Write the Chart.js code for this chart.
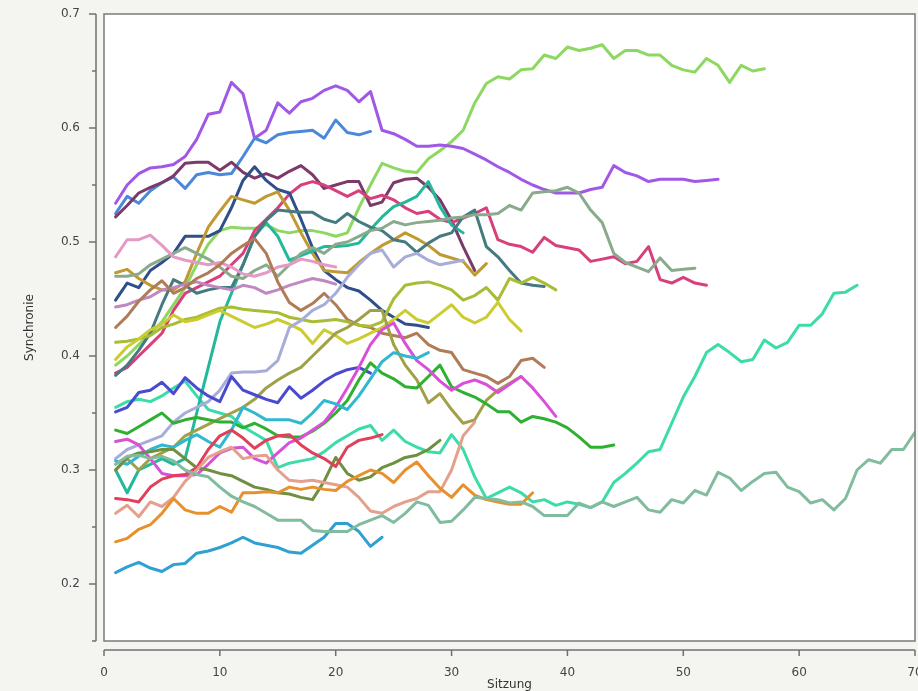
<!DOCTYPE html>
<html>
<head>
<meta charset="utf-8">
<script src="https://cdn.jsdelivr.net/npm/chart.js@4.4.1/dist/chart.umd.min.js"></script>
<style>
html,body{margin:0;padding:0;background:#f4f4f1;}
canvas{display:block;}
</style>
</head>
<body>
<canvas id="c" width="918" height="691"></canvas>
<script>
// ---- data (Synchronie je Sitzung, Sitzung 1..n) ----
const xTicks = [0,10,20,30,40,50,60,70];
const yTicks = [0.2,0.3,0.4,0.5,0.6,0.7];
const yMinorTicks = [0.15,0.25,0.35,0.45,0.55,0.65];

const paar01 = [0.534,0.55,0.56,0.565,0.566,0.568,0.575,0.59,0.612,0.614,0.64,0.63,0.591,0.598,0.622,0.613,0.623,0.626,0.633,0.637,0.633,0.623,0.632,0.598,0.595,0.59,0.584,0.584,0.585,0.584,0.582,0.577,0.572,0.566,0.561,0.555,0.55,0.546,0.543,0.543,0.543,0.546,0.548,0.567,0.561,0.558,0.553,0.555,0.555,0.555,0.553,0.554,0.555];
const paar02 = [0.525,0.54,0.534,0.545,0.552,0.557,0.547,0.559,0.561,0.559,0.56,0.575,0.591,0.587,0.594,0.596,0.597,0.598,0.591,0.607,0.596,0.594,0.597];
const paar03 = [0.522,0.532,0.543,0.548,0.552,0.558,0.569,0.57,0.57,0.563,0.57,0.561,0.556,0.56,0.556,0.562,0.567,0.559,0.547,0.55,0.553,0.553,0.532,0.535,0.552,0.555,0.556,0.548,0.537,0.519,0.496,0.475];
const paar04 = [0.449,0.464,0.46,0.475,0.482,0.49,0.505,0.505,0.505,0.51,0.53,0.554,0.566,0.554,0.546,0.543,0.52,0.495,0.475,0.467,0.46,0.457,0.449,0.44,0.434,0.428,0.427,0.425];
const paar05 = [0.473,0.476,0.468,0.462,0.458,0.458,0.465,0.49,0.513,0.527,0.54,0.537,0.534,0.54,0.544,0.528,0.508,0.49,0.475,0.474,0.473,0.482,0.49,0.497,0.502,0.508,0.503,0.497,0.489,0.486,0.483,0.471,0.481];
const paar06 = [0.487,0.502,0.502,0.506,0.497,0.487,0.484,0.482,0.48,0.482,0.478,0.472,0.47,0.473,0.478,0.48,0.485,0.483,0.48,0.478];
const paar07 = [0.385,0.39,0.4,0.41,0.42,0.44,0.455,0.46,0.465,0.47,0.48,0.49,0.51,0.52,0.53,0.542,0.55,0.553,0.55,0.545,0.54,0.545,0.538,0.541,0.537,0.53,0.525,0.527,0.52,0.517,0.521,0.525,0.53,0.502,0.498,0.496,0.491,0.504,0.497,0.495,0.493,0.483,0.485,0.487,0.481,0.483,0.496,0.467,0.464,0.469,0.464,0.462];
const paar08 = [0.47,0.47,0.472,0.48,0.485,0.49,0.495,0.49,0.485,0.478,0.47,0.468,0.475,0.48,0.47,0.48,0.49,0.495,0.49,0.498,0.5,0.505,0.51,0.512,0.518,0.515,0.517,0.518,0.519,0.521,0.522,0.524,0.524,0.525,0.532,0.528,0.543,0.544,0.545,0.548,0.543,0.528,0.517,0.49,0.482,0.478,0.474,0.486,0.475,0.476,0.477];
const paar09 = [0.305,0.312,0.313,0.31,0.312,0.308,0.3,0.296,0.294,0.285,0.277,0.272,0.268,0.262,0.256,0.256,0.256,0.247,0.246,0.246,0.246,0.252,0.256,0.26,0.254,0.262,0.272,0.269,0.254,0.255,0.265,0.276,0.275,0.274,0.271,0.272,0.268,0.26,0.26,0.26,0.271,0.267,0.272,0.268,0.272,0.276,0.265,0.263,0.274,0.271,0.282,0.278,0.298,0.293,0.282,0.29,0.297,0.298,0.285,0.281,0.271,0.274,0.265,0.275,0.3,0.309,0.306,0.318,0.318,0.333];
const paar10 = [0.355,0.36,0.362,0.36,0.365,0.372,0.378,0.365,0.353,0.35,0.347,0.338,0.332,0.326,0.302,0.306,0.308,0.31,0.316,0.324,0.33,0.336,0.339,0.326,0.335,0.325,0.32,0.316,0.315,0.331,0.318,0.294,0.275,0.28,0.285,0.28,0.272,0.274,0.269,0.272,0.27,0.267,0.272,0.289,0.297,0.306,0.316,0.318,0.341,0.364,0.382,0.403,0.41,0.403,0.395,0.397,0.414,0.407,0.412,0.427,0.427,0.437,0.455,0.456,0.462];
const paar11 = [0.412,0.413,0.415,0.418,0.425,0.428,0.432,0.434,0.438,0.442,0.443,0.441,0.44,0.439,0.438,0.434,0.432,0.43,0.431,0.432,0.43,0.427,0.426,0.43,0.45,0.462,0.464,0.465,0.462,0.458,0.449,0.453,0.46,0.449,0.468,0.464,0.469,0.464,0.458];
const paar12 = [0.397,0.408,0.415,0.423,0.428,0.436,0.43,0.432,0.436,0.44,0.435,0.43,0.425,0.428,0.432,0.428,0.423,0.411,0.423,0.418,0.411,0.415,0.42,0.425,0.432,0.44,0.432,0.429,0.437,0.445,0.434,0.429,0.434,0.447,0.432,0.422];
const paar13 = [0.30,0.31,0.30,0.31,0.315,0.32,0.33,0.335,0.34,0.345,0.35,0.355,0.362,0.372,0.379,0.385,0.39,0.4,0.41,0.42,0.425,0.432,0.44,0.44,0.41,0.392,0.379,0.359,0.367,0.353,0.341,0.344,0.361,0.37,0.376,0.382];
const paar14 = [0.425,0.435,0.448,0.458,0.466,0.455,0.46,0.468,0.473,0.48,0.49,0.497,0.503,0.49,0.465,0.447,0.44,0.446,0.455,0.445,0.432,0.427,0.425,0.42,0.418,0.416,0.42,0.41,0.405,0.403,0.388,0.385,0.382,0.376,0.382,0.396,0.398,0.39];
const paar15 = [0.383,0.392,0.405,0.42,0.445,0.467,0.462,0.455,0.458,0.46,0.46,0.48,0.505,0.519,0.528,0.527,0.526,0.526,0.52,0.517,0.525,0.518,0.513,0.51,0.502,0.5,0.491,0.499,0.505,0.508,0.522,0.528,0.496,0.487,0.475,0.464,0.462,0.461];
const paar16 = [0.30,0.28,0.30,0.305,0.31,0.305,0.31,0.35,0.39,0.43,0.455,0.48,0.505,0.517,0.505,0.484,0.488,0.492,0.496,0.496,0.497,0.499,0.511,0.522,0.531,0.535,0.54,0.553,0.531,0.515,0.508];
const paar17 = [0.308,0.305,0.312,0.318,0.322,0.32,0.326,0.331,0.325,0.32,0.335,0.355,0.35,0.344,0.344,0.344,0.341,0.35,0.361,0.358,0.353,0.365,0.38,0.395,0.403,0.4,0.398,0.403];
const paar18 = [0.30,0.311,0.315,0.316,0.318,0.318,0.31,0.302,0.3,0.297,0.295,0.29,0.285,0.283,0.28,0.279,0.276,0.274,0.29,0.311,0.297,0.291,0.294,0.302,0.306,0.311,0.313,0.318,0.326];
const paar19 = [0.392,0.4,0.41,0.42,0.43,0.445,0.46,0.48,0.498,0.51,0.513,0.512,0.512,0.515,0.51,0.508,0.51,0.51,0.508,0.505,0.508,0.53,0.55,0.569,0.565,0.562,0.561,0.573,0.58,0.588,0.598,0.622,0.639,0.645,0.643,0.651,0.652,0.664,0.661,0.671,0.668,0.67,0.673,0.661,0.668,0.668,0.664,0.664,0.655,0.651,0.649,0.661,0.655,0.64,0.655,0.65,0.652];
const paar20 = [0.443,0.445,0.449,0.452,0.458,0.46,0.463,0.465,0.462,0.46,0.458,0.462,0.46,0.455,0.458,0.462,0.465,0.468,0.466,0.463];
const paar21 = [0.21,0.215,0.219,0.214,0.211,0.217,0.218,0.227,0.229,0.232,0.236,0.241,0.236,0.234,0.232,0.228,0.227,0.234,0.241,0.253,0.253,0.246,0.233,0.241];
const paar22 = [0.237,0.24,0.248,0.252,0.262,0.275,0.265,0.262,0.262,0.268,0.263,0.28,0.28,0.281,0.28,0.285,0.283,0.285,0.283,0.282,0.29,0.295,0.3,0.297,0.289,0.3,0.307,0.295,0.284,0.276,0.287,0.278,0.274,0.272,0.27,0.27,0.28];
const paar23 = [0.262,0.269,0.259,0.272,0.268,0.276,0.29,0.3,0.311,0.316,0.32,0.31,0.312,0.313,0.3,0.291,0.29,0.291,0.289,0.287,0.285,0.276,0.264,0.262,0.268,0.272,0.275,0.281,0.281,0.3,0.33,0.342];
const paar24 = [0.275,0.274,0.272,0.285,0.292,0.295,0.296,0.302,0.318,0.33,0.335,0.328,0.319,0.326,0.33,0.331,0.322,0.315,0.31,0.303,0.32,0.326,0.328,0.331];
const paar25 = [0.325,0.327,0.322,0.31,0.297,0.295,0.295,0.296,0.305,0.315,0.319,0.32,0.31,0.306,0.315,0.324,0.328,0.335,0.342,0.355,0.372,0.39,0.41,0.423,0.429,0.411,0.396,0.388,0.378,0.37,0.376,0.379,0.375,0.368,0.375,0.382,0.372,0.36,0.347];
const paar26 = [0.335,0.332,0.338,0.344,0.35,0.341,0.344,0.346,0.344,0.342,0.342,0.337,0.341,0.336,0.33,0.329,0.329,0.334,0.341,0.35,0.361,0.379,0.394,0.385,0.38,0.373,0.372,0.382,0.392,0.373,0.368,0.364,0.358,0.351,0.351,0.342,0.347,0.345,0.342,0.337,0.329,0.32,0.32,0.322];
const paar27 = [0.351,0.355,0.368,0.37,0.377,0.367,0.381,0.372,0.365,0.36,0.382,0.37,0.366,0.362,0.359,0.373,0.363,0.37,0.378,0.384,0.388,0.39,0.385];
const paar28 = [0.31,0.318,0.322,0.326,0.33,0.342,0.35,0.355,0.36,0.37,0.385,0.386,0.386,0.387,0.396,0.425,0.431,0.44,0.445,0.455,0.469,0.48,0.49,0.493,0.478,0.487,0.49,0.484,0.48,0.482,0.484];

const seriesList = [
  [paar09,'#82bc9e'],[paar21,'#2fa0d2'],[paar22,'#e8902e'],[paar23,'#e4a08c'],
  [paar24,'#e0405a'],[paar18,'#6e9040'],[paar17,'#30b8d0'],[paar25,'#d850d8'],
  [paar26,'#2eb030'],[paar27,'#4a4ad0'],[paar28,'#a8acd8'],[paar13,'#a0a048'],
  [paar12,'#cccc30'],[paar11,'#a8bc34'],[paar14,'#b07c58'],[paar20,'#c088c0'],
  [paar06,'#e49ac4'],[paar08,'#8aaa8c'],[paar15,'#457a80'],[paar16,'#22b89a'],
  [paar05,'#c09a30'],[paar04,'#2e4f8c'],[paar07,'#d8407c'],[paar03,'#7c3a6a'],
  [paar02,'#4a88dc'],[paar01,'#a158e6'],[paar19,'#8cd860'],[paar10,'#3cdcaa']
];

const datasets = seriesList.map(([vals,col],i)=>({
  label:'Paar '+(i+1),
  data: vals.map((v,k)=>({x:k+1,y:v})),
  borderColor: col,
  backgroundColor: col,
  borderWidth: 3,
  pointRadius: 0,
  pointHoverRadius: 0,
  tension: 0,
  fill: false,
  borderJoinStyle: 'round',
  borderCapStyle: 'round'
}));

const AXIS = '#707070';
const framePlugin = {
  id:'framePlugin',
  beforeDatasetsDraw(chart){
    const {ctx, chartArea:a} = chart;
    ctx.save();
    ctx.fillStyle = '#ffffff';
    ctx.fillRect(a.left, a.top, a.right-a.left, a.bottom-a.top);
    ctx.restore();
  },
  afterDatasetsDraw(chart){
    const {ctx, chartArea:a, scales} = chart;
    const xs = scales.x, ys = scales.y;
    ctx.save();
    ctx.strokeStyle = '#7a7a7a';
    ctx.lineWidth = 1.5;
    ctx.strokeRect(a.left, a.top, a.right-a.left, a.bottom-a.top);
    // y axis (offset)
    const ax = a.left - 8;
    ctx.strokeStyle = AXIS;
    ctx.beginPath();
    ctx.moveTo(ax, ys.getPixelForValue(0.7));
    ctx.lineTo(ax, ys.getPixelForValue(0.15));
    yTicks.forEach(v=>{ const p=ys.getPixelForValue(v); ctx.moveTo(ax,p); ctx.lineTo(ax-7,p); });
    yMinorTicks.forEach(v=>{ const p=ys.getPixelForValue(v); ctx.moveTo(ax,p); ctx.lineTo(ax-4,p); });
    ctx.stroke();
    // x axis (offset)
    const ay = a.bottom + 9;
    ctx.beginPath();
    ctx.moveTo(xs.getPixelForValue(0), ay);
    ctx.lineTo(xs.getPixelForValue(70), ay);
    xTicks.forEach(v=>{ const p=xs.getPixelForValue(v); ctx.moveTo(p,ay); ctx.lineTo(p,ay+6); });
    ctx.stroke();
    ctx.restore();
  }
};

const FONT = 'DejaVu Sans';
new Chart(document.getElementById('c'), {
  type:'line',
  data:{datasets},
  options:{
    responsive:false,
    animation:false,
    events:[],
    layout:{padding:{left:0,right:3,top:14,bottom:0}},
    plugins:{legend:{display:false},tooltip:{enabled:false}},
    scales:{
      x:{
        type:'linear', min:0, max:70,
        grid:{display:false}, border:{display:false},
        afterBuildTicks:(s)=>{ s.ticks = xTicks.map(v=>({value:v})); },
        ticks:{font:{family:FONT,size:12}, color:'#444', padding:17, maxRotation:0,
               callback:(v)=>String(v)},
        title:{display:true, text:'Sitzung', font:{family:FONT,size:12,lineHeight:1}, color:'#333', padding:{top:0,bottom:0}},
        afterFit:(s)=>{ s.height = 50; s.paddingLeft = 0; s.paddingRight = 0; }
      },
      y:{
        type:'linear', min:0.15, max:0.7,
        grid:{display:false}, border:{display:false},
        afterBuildTicks:(s)=>{ s.ticks = yTicks.map(v=>({value:v})); },
        ticks:{font:{family:FONT,size:12}, color:'#444', padding:16,
               callback:(v)=>Number(v).toFixed(1)},
        title:{display:true, text:'Synchronie', font:{family:FONT,size:12,lineHeight:1}, color:'#333', padding:{top:24,bottom:0}},
        afterFit:(s)=>{ s.width = 104; s.paddingTop = 0; s.paddingBottom = 0; }
      }
    }
  },
  plugins:[framePlugin]
});
</script>
</body>
</html>
